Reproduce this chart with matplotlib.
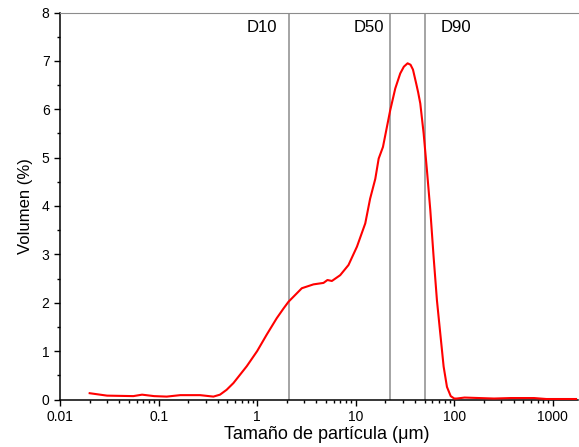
"""
Particle size distribution (volume %) with D10 / D50 / D90 markers.
"""
import matplotlib
matplotlib.use("Agg")
import matplotlib.pyplot as plt
from matplotlib.ticker import LogLocator, MultipleLocator, FixedLocator, FixedFormatter

# particle size (um) and volume (%)
size_um = [0.02, 0.03, 0.0555, 0.068, 0.09, 0.121, 0.166, 0.264, 0.36, 0.42,
           0.49, 0.575, 0.786, 1.0, 1.25, 1.58, 1.85, 2.08, 2.84, 3.73,
           4.71, 5.17, 5.73, 6.96, 8.45, 10.3, 12.5, 14.0, 15.8, 17.1,
           18.9, 22.4, 25.2, 28.3, 30.8, 33.6, 36.0, 38.1, 41.1, 43.0,
           45.2, 48.9, 52.8, 57.1, 61.7, 66.7, 71.0, 78.0, 84.3, 92.0,
           100, 106, 127, 253, 374, 645, 860, 1720]
volume_pct = [0.13, 0.08, 0.07, 0.10, 0.07, 0.06, 0.09, 0.09, 0.06, 0.10,
              0.20, 0.34, 0.69, 1.00, 1.34, 1.68, 1.88, 2.02, 2.30, 2.38,
              2.41, 2.47, 2.45, 2.57, 2.78, 3.16, 3.64, 4.15, 4.56, 4.98,
              5.22, 5.98, 6.43, 6.74, 6.88, 6.95, 6.92, 6.82, 6.53, 6.35,
              6.12, 5.50, 4.74, 3.92, 2.95, 2.05, 1.50, 0.68, 0.26, 0.07,
              0.02, 0.02, 0.04, 0.02, 0.03, 0.03, 0.01, 0.01]

d_labels = ["D10", "D50", "D90"]
d_values = [2.1, 22.1, 51.0]

x_ticks = [0.01, 0.1, 1, 10, 100, 1000]
x_tick_labels = ["0.01", "0.1", "1", "10", "100", "1000"]


def main() -> None:
    plt.rcParams["font.family"] = ["Liberation Sans", "DejaVu Sans"]

    fig = plt.figure(figsize=(5.79, 4.47), dpi=100)
    ax = fig.add_axes([60 / 579, 1 - 399.5 / 447, 518 / 579, 387 / 447])

    ax.plot(size_um, volume_pct, color="#ff0000", lw=1.5, zorder=3)

    offsets = {"D10": (-12, "right"), "D50": (-6, "right"), "D90": (15, "left")}
    for lab, d in zip(d_labels, d_values):
        ax.axvline(d, color="#8c8c8c", lw=1.1, zorder=2)
        dx, ha = offsets[lab]
        ax.annotate(lab, xy=(d, 1), xycoords=("data", "axes fraction"),
                    xytext=(dx, -20), textcoords="offset pixels",
                    ha=ha, va="baseline", fontsize=12)

    ax.set_xscale("log")
    ax.set_xlim(0.01, 1800)
    ax.set_ylim(0, 8)

    ax.xaxis.set_major_locator(FixedLocator(x_ticks))
    ax.xaxis.set_major_formatter(FixedFormatter(x_tick_labels))
    ax.xaxis.set_minor_locator(LogLocator(base=10, subs=range(2, 10), numticks=20))
    ax.yaxis.set_major_locator(MultipleLocator(1))
    ax.yaxis.set_minor_locator(MultipleLocator(0.5))

    ax.tick_params(which="major", direction="out", length=4, width=1, labelsize=10)
    ax.tick_params(which="minor", direction="out", length=2.5, width=1)
    ax.tick_params(axis="x", which="minor", labelbottom=False)

    ax.spines["right"].set_visible(False)
    ax.spines["top"].set_color("#8c8c8c")
    ax.spines["left"].set_linewidth(1.1)
    ax.spines["bottom"].set_linewidth(1.1)

    ax.set_xlabel("Tamaño de partícula (μm)", fontsize=13)
    ax.xaxis.set_label_coords(0.515, -0.068, transform=ax.transAxes)
    ax.xaxis.label.set_va("top")
    ax.set_ylabel("Volumen (%)", fontsize=12, labelpad=6)

    fig.savefig("out.png", dpi=100)
    plt.close(fig)


if __name__ == "__main__":
    main()
